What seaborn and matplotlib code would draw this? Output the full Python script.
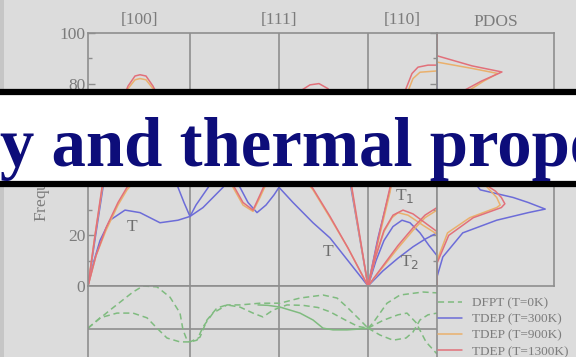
import numpy as np
import pandas as pd
import matplotlib
matplotlib.use("Agg")
import matplotlib.pyplot as plt
from matplotlib.lines import Line2D
from matplotlib.patches import Rectangle
from matplotlib.transforms import Bbox
import seaborn as sns

# ---- path layout (distance along the Brillouin-zone path) ----
SEG_EDGES = [0, 102, 191, 280, 349]
SEG_LABELS = ["[100]", "[111]", "[110]"]

TEMPS = ["DFPT (T=0K)", "TDEP (T=300K)", "TDEP (T=900K)", "TDEP (T=1300K)"]
COLORS = {"DFPT (T=0K)": "#7fbb7f", "TDEP (T=300K)": "#6c6cd8",
          "TDEP (T=900K)": "#eab06c", "TDEP (T=1300K)": "#e2707a"}

# ---- dispersion branches: (q, frequency) ----
t300_low_q = [0, 6, 12, 22, 37, 52, 72, 90, 102, 115, 125, 135, 143, 152, 160, 169, 178, 186, 191, 205, 225, 242, 260, 280]
t300_low_f = [0, 10, 18, 26, 30, 29, 25, 26, 27.5, 31, 35, 39, 43, 39, 33, 29, 32, 36, 39, 33, 25, 19, 10, 0]
t300_up_q = [0, 8, 15, 25, 35, 50, 65, 80, 90, 96, 102, 108, 115, 122, 135, 150, 165, 180, 191, 210, 230, 248, 258, 266, 273, 280]
t300_up_f = [0, 21, 39, 55, 65, 71, 70, 56, 39, 33, 27.5, 32, 36, 40, 50, 60, 67, 70, 70, 72, 73, 65, 50, 32, 16, 0]
t300_g_t2_q = [280, 295, 310, 325, 337, 349]
t300_g_t2_f = [0, 6, 11, 15.5, 18.5, 21]
t300_g_t1_q = [280, 288, 296, 305, 314, 322, 332, 341, 349]
t300_g_t1_f = [0, 10, 18, 23.5, 26, 25, 21, 16, 12]
t300_g_l_q = [280, 290, 302, 312, 322, 335, 349]
t300_g_l_f = [0, 19, 38, 55, 66, 72, 74]

t900_low_q = [0, 8, 18, 30, 39, 50, 65, 80, 95, 102, 115, 130, 140, 145, 155, 165, 172, 180, 191, 210, 225, 242, 260, 280]
t900_low_f = [0, 12, 22, 32, 38, 43, 46, 47, 46, 45.5, 48, 50, 44, 39, 32, 29.5, 35, 42, 52, 45, 38, 27, 15, 0]
t900_up_q = [0, 7, 14, 22, 30, 40, 47, 52, 58, 65, 75, 88, 102, 115, 130, 150, 170, 185, 200, 212, 222, 231, 240, 250, 257, 263, 268, 274, 280]
t900_up_f = [0, 20, 38, 55, 68, 78, 81.5, 82, 81.5, 78, 70, 60, 57, 60, 63, 66, 68, 70, 72, 75, 77, 77.5, 75, 67, 55, 40, 28, 14, 0]
t900_g_t2_q = [280, 295, 310, 325, 337, 349]
t900_g_t2_f = [0, 7.5, 15, 22, 27, 30]
t900_g_t1_q = [280, 288, 296, 304, 310, 320, 335, 349]
t900_g_t1_f = [0, 12, 21.5, 27, 29, 28, 24, 20.5]
t900_g_l_q = [280, 291, 302, 311, 318, 325, 332, 349]
t900_g_l_f = [0, 19, 37, 57, 75, 82, 84.5, 85]

t1300_low_q = [0, 8, 18, 30, 39, 50, 65, 80, 95, 102, 115, 130, 140, 145, 155, 165, 172, 180, 191, 210, 225, 242, 260, 280]
t1300_low_f = [0, 12, 23, 33, 39, 44, 47, 48, 47, 46.5, 49, 51, 45, 40, 33, 30, 36, 43, 53, 46, 38.5, 27.5, 15, 0]
t1300_up_q = [0, 7, 14, 22, 30, 40, 47, 52, 58, 65, 75, 88, 102, 115, 130, 150, 170, 185, 200, 212, 222, 231, 240, 250, 257, 263, 268, 274, 280]
t1300_up_f = [0, 20, 39, 56, 69, 79, 83, 83.5, 83, 79, 71, 61, 58, 61, 64, 67, 69, 71, 73, 77, 79.5, 80, 78, 69, 56, 41, 29, 14.5, 0]
t1300_g_t2_q = [280, 295, 310, 325, 337, 349]
t1300_g_t2_f = [0, 8, 16, 23, 28, 31]
t1300_g_t1_q = [280, 288, 296, 305, 315, 325, 337, 349]
t1300_g_t1_f = [0, 12, 22, 28, 30, 28.5, 25, 21.5]
t1300_g_l_q = [280, 291, 302, 310, 317, 324, 330, 340, 349]
t1300_g_l_f = [0, 20, 39, 58, 77, 84, 86.5, 87.3, 87.3]

# ---- phonon DOS: (density, frequency) ----
pdos300_d = [0, 0, 0.05, 0.22, 0.51, 0.78, 0.925, 0.78, 0.65, 0.37, 0.25, 0.30, 0.45, 0.55, 0.40, 0.10, 0, 0]
pdos300_f = [0, 3.6, 11.5, 21, 26, 29, 30.4, 33, 35, 38, 45, 55, 62, 68, 72, 75, 77, 100]
pdos900_d = [0, 0, 0.09, 0.28, 0.51, 0.54, 0.51, 0.47, 0.43, 0.30, 0.25, 0.20, 0.20, 0.28, 0.40, 0.52, 0.30, 0, 0]
pdos900_f = [0, 10, 21, 27, 31, 32, 35, 37, 39, 45, 55, 65, 72, 77.5, 81, 84, 86, 88.5, 100]
pdos1300_d = [0, 0, 0.10, 0.31, 0.55, 0.58, 0.55, 0.50, 0.45, 0.32, 0.26, 0.22, 0.20, 0.24, 0.38, 0.555, 0.30, 0, 0]
pdos1300_f = [0, 9, 20, 27, 31, 32.5, 35, 37.5, 39, 45, 55, 65, 72, 77.5, 81, 84.6, 87, 91, 100]

# ---- lower panel (DFPT reference curves) ----
dfpt_a_q = [0, 22, 45, 55, 69, 82, 92, 95, 99, 102, 112, 119, 129, 139, 152, 165, 175, 185, 199, 215, 230, 242, 258, 270, 280]
dfpt_a_v = [0.02, 0.44, 0.86, 1.0, 0.98, 0.74, 0.37, -0.02, -0.26, -0.30, -0.19, 0.21, 0.49, 0.56, 0.51, 0.37, 0.28, 0.44, 0.56, 0.55, 0.50, 0.40, 0.20, 0.06, 0.02]
dfpt_b_q = [0, 12, 29, 45, 59, 69, 79, 92, 102, 109, 115, 125, 139, 152, 172, 192, 212, 235, 249, 259, 272, 280]
dfpt_b_v = [0.02, 0.26, 0.37, 0.37, 0.26, 0.02, -0.21, -0.30, -0.30, -0.26, 0.05, 0.37, 0.56, 0.56, 0.60, 0.60, 0.72, 0.79, 0.72, 0.51, 0.21, 0.02]
dfpt_c_q = [280, 292, 305, 318, 325, 332, 340, 349]
dfpt_c_v = [0.02, -0.14, -0.26, -0.21, -0.07, 0.21, 0.33, 0.37]
dfpt_d_q = [280, 285, 299, 312, 335, 349]
dfpt_d_v = [0.02, 0.14, 0.60, 0.79, 0.86, 0.84]
dfpt_e_q = [280, 295, 310, 319, 328, 338, 349]
dfpt_e_v = [0.02, 0.20, 0.33, 0.37, 0.15, -0.30, -0.58]
dfpt_s_q = [170, 180, 192, 212, 225, 235, 245, 259, 272, 280]
dfpt_s_v = [0.56, 0.55, 0.51, 0.37, 0.21, 0.02, -0.02, -0.02, 0.0, 0.02]

FREQ_TICKS = [0, 20, 40, 60, 80, 100]
FREQ_TICK_LABELS = ["0", "20", "", "", "80", "100"]


def frame(rows):
    parts = []
    for temp, name, q, f in rows:
        parts.append(pd.DataFrame({"q": q, "f": f, "temp": temp, "branch": f"{temp}:{name}"}))
    return pd.concat(parts, ignore_index=True)


disp = frame([
    ("TDEP (T=300K)", "low", t300_low_q, t300_low_f),
    ("TDEP (T=300K)", "up", t300_up_q, t300_up_f),
    ("TDEP (T=300K)", "gt2", t300_g_t2_q, t300_g_t2_f),
    ("TDEP (T=300K)", "gt1", t300_g_t1_q, t300_g_t1_f),
    ("TDEP (T=300K)", "gl", t300_g_l_q, t300_g_l_f),
    ("TDEP (T=900K)", "low", t900_low_q, t900_low_f),
    ("TDEP (T=900K)", "up", t900_up_q, t900_up_f),
    ("TDEP (T=900K)", "gt2", t900_g_t2_q, t900_g_t2_f),
    ("TDEP (T=900K)", "gt1", t900_g_t1_q, t900_g_t1_f),
    ("TDEP (T=900K)", "gl", t900_g_l_q, t900_g_l_f),
    ("TDEP (T=1300K)", "low", t1300_low_q, t1300_low_f),
    ("TDEP (T=1300K)", "up", t1300_up_q, t1300_up_f),
    ("TDEP (T=1300K)", "gt2", t1300_g_t2_q, t1300_g_t2_f),
    ("TDEP (T=1300K)", "gt1", t1300_g_t1_q, t1300_g_t1_f),
    ("TDEP (T=1300K)", "gl", t1300_g_l_q, t1300_g_l_f),
])

dos = frame([
    ("TDEP (T=300K)", "dos", pdos300_d, pdos300_f),
    ("TDEP (T=900K)", "dos", pdos900_d, pdos900_f),
    ("TDEP (T=1300K)", "dos", pdos1300_d, pdos1300_f),
])

lower = frame([
    ("DFPT (T=0K)", "a", dfpt_a_q, dfpt_a_v),
    ("DFPT (T=0K)", "b", dfpt_b_q, dfpt_b_v),
    ("DFPT (T=0K)", "c", dfpt_c_q, dfpt_c_v),
    ("DFPT (T=0K)", "d", dfpt_d_q, dfpt_d_v),
    ("DFPT (T=0K)", "e", dfpt_e_q, dfpt_e_v),
])
lower_solid = frame([("DFPT (T=0K)", "s", dfpt_s_q, dfpt_s_v)])

# ---- styling ----
sns.set_theme(style="white")
BG = "#dcdcdc"
GRID = "#8e8e8e"
TXT = "#7c7c7c"
plt.rcParams["font.family"] = ["Liberation Serif", "DejaVu Serif"]
plt.rcParams["axes.facecolor"] = BG
plt.rcParams["figure.facecolor"] = BG

W, H = 576, 357
fig = plt.figure(figsize=(W / 100, H / 100), dpi=100)


def px_box(x0, y0, x1, y1):
    return [x0 / W, 1 - y1 / H, (x1 - x0) / W, (y1 - y0) / H]


# slide edge shading on the far left
fig.add_artist(Rectangle((0, 0), 4 / W, 1, transform=fig.transFigure,
                         facecolor="#c6c6c6", edgecolor="none", zorder=0))

ax = fig.add_axes(px_box(88, 33, 437, 286))
axp = fig.add_axes(px_box(437, 33, 554, 286))
axl = fig.add_axes(px_box(88, 286, 437, 357))

for a in (ax, axp, axl):
    a.set_facecolor(BG)
    for s in a.spines.values():
        s.set_color(GRID)
        s.set_linewidth(1.2)

palette = {k: COLORS[k] for k in TEMPS}

# dispersion
sns.lineplot(data=disp, x="q", y="f", hue="temp", units="branch", estimator=None,
             sort=False, palette=palette, legend=False, linewidth=1.1, ax=ax)
for e in SEG_EDGES[1:-1]:
    ax.axvline(e, color=GRID, lw=1.2, zorder=0)
ax.set_xlim(SEG_EDGES[0], SEG_EDGES[-1])
ax.set_ylim(0, 100)
ax.set_xticks([])
ax.set_yticks(FREQ_TICKS)
ax.set_yticklabels(FREQ_TICK_LABELS)
ax.set_yticks(np.arange(10, 100, 20), minor=True)
ax.tick_params(axis="y", which="both", direction="in", left=True, right=True,
               colors=GRID, labelcolor=TXT, labelsize=12.5, pad=2)
ax.tick_params(axis="y", which="major", length=5, width=1)
ax.tick_params(axis="y", which="minor", length=3, width=1)
ax.set_xlabel("")
ax.set_ylabel("")

# axis title, shown only below the banner
ylab = fig.text(41 / W, 1 - 222 / H, "Frequency (cm$^{-1}$)", color=TXT, fontsize=12.5,
                rotation=90, ha="center", va="bottom")
ylab.set_clip_box(Bbox.from_extents(0, 0, 88, H - 187))
ylab.set_clip_on(True)

ax.text(44, 23.5, "T", color="#6e6e6e", fontsize=12.5, ha="center", va="center")
ax.text(240, 13.5, "T", color="#6e6e6e", fontsize=12.5, ha="center", va="center")
ax.text(317, 35.5, "T$_1$", color="#6e6e6e", fontsize=12.5, ha="center", va="center")
ax.text(322, 9.5, "T$_2$", color="#6e6e6e", fontsize=12.5, ha="center", va="center")

# PDOS
sns.lineplot(data=dos, x="q", y="f", hue="temp", units="branch", estimator=None,
             sort=False, palette=palette, legend=False, linewidth=1.1, ax=axp)
axp.set_xlim(0, 1)
axp.set_ylim(0, 100)
axp.set_xticks([])
axp.set_yticks([])
axp.set_xlabel("")
axp.set_ylabel("")

# lower panel
sns.lineplot(data=lower, x="q", y="f", hue="temp", units="branch", estimator=None,
             sort=False, palette=palette, legend=False, linewidth=1.1, ax=axl)
for line in axl.get_lines():
    line.set_dashes([4, 2.5])
sns.lineplot(data=lower_solid, x="q", y="f", hue="temp", units="branch", estimator=None,
             sort=False, palette=palette, legend=False, linewidth=1.1, ax=axl)
for e in SEG_EDGES[1:-1]:
    axl.axvline(e, color=GRID, lw=1.2, zorder=0)
axl.axhline(0, color=GRID, lw=1.2, zorder=0)
axl.set_xlim(SEG_EDGES[0], SEG_EDGES[-1])
axl.set_ylim(-0.651, 1.0)
axl.spines["bottom"].set_visible(False)
axl.set_xticks([])
axl.set_yticks([])
axl.set_xlabel("")
axl.set_ylabel("")

# segment titles
for lab, xp in zip(SEG_LABELS, [140, 279, 402]):
    fig.text(xp / W, 1 - 20 / H, lab, color=TXT, fontsize=12.5, ha="center", va="center")
fig.text(496 / W, 1 - 22 / H, "PDOS", color=TXT, fontsize=12.5, ha="center", va="center")

# legend
handles = [Line2D([], [], color=COLORS[t], lw=1.1, ls=(0, (4, 2.5)) if t.startswith("DFPT") else "-")
           for t in TEMPS]
fig.legend(handles, TEMPS, loc="upper left", bbox_to_anchor=(438 / W, 1 - 297 / H),
           frameon=False, fontsize=9.5, labelcolor=TXT, handlelength=1.8,
           handletextpad=0.8, labelspacing=0.3, borderaxespad=0, borderpad=0)

# title banner
fig.add_artist(Rectangle((-0.05, 1 - 184 / H), 1.1, (184 - 92.5) / H, transform=fig.transFigure,
                         facecolor="white", edgecolor="black", linewidth=4.5, zorder=10))
fig.text(0 / W, 1 - 166 / H, "y and thermal prope", color="#0d0d7a", fontsize=49.5,
         fontweight="bold", ha="left", va="baseline", zorder=11)

fig.savefig("out.png", dpi=100, facecolor=BG)
